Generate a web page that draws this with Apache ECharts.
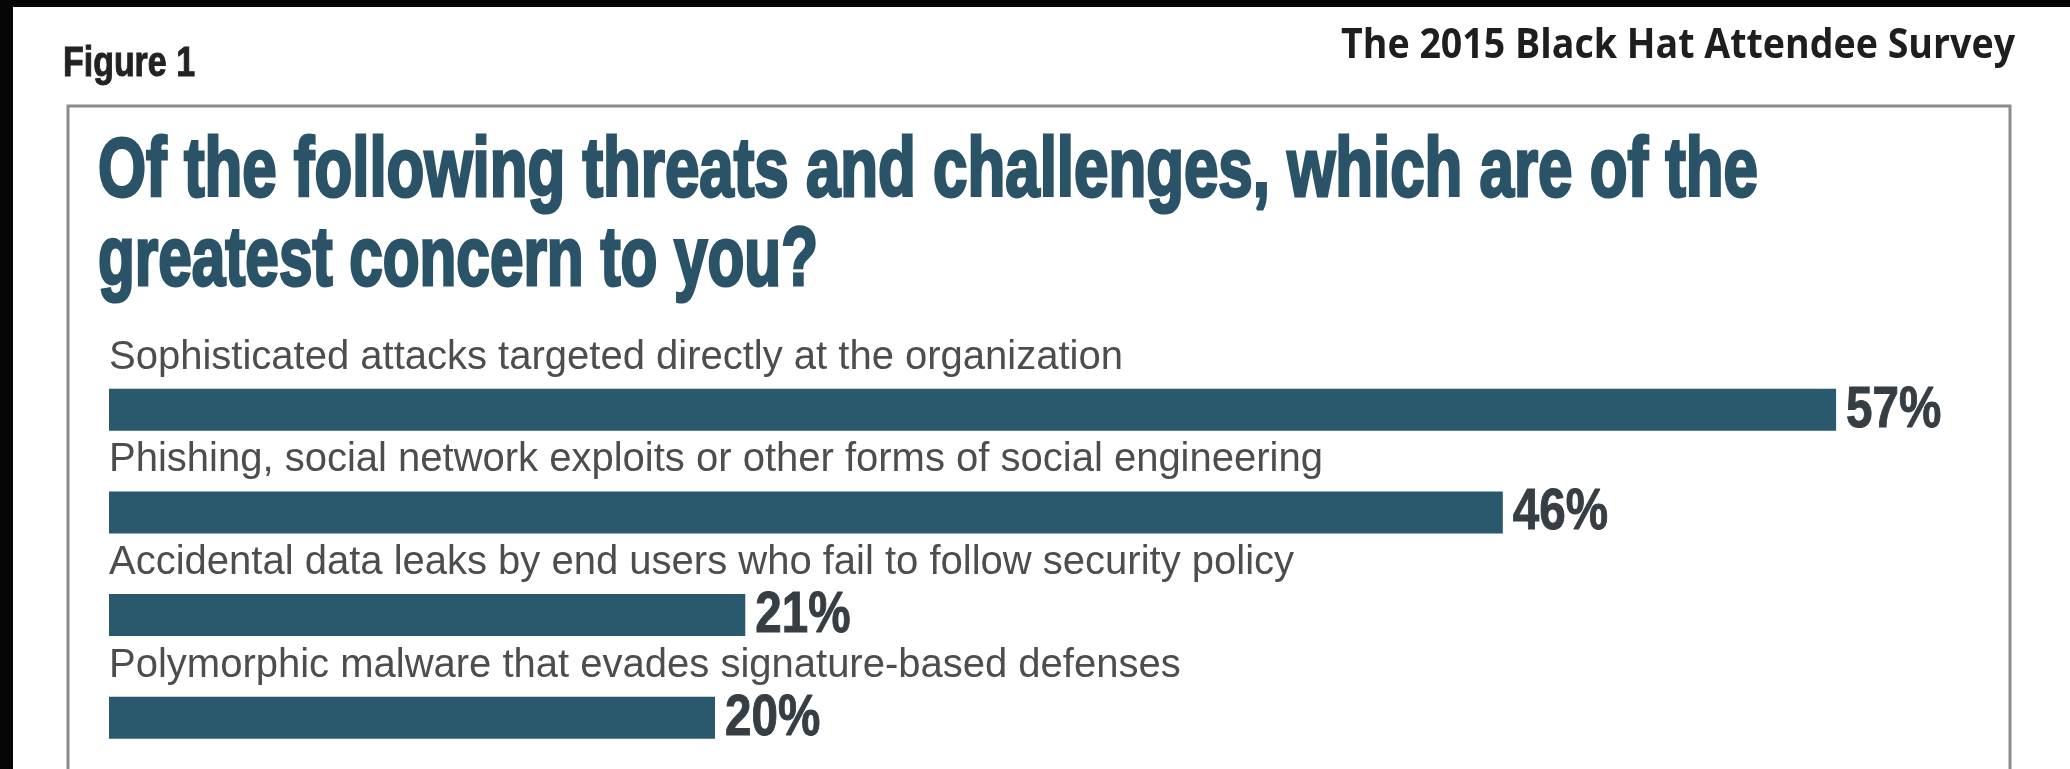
<!DOCTYPE html>
<html>
<head>
<meta charset="utf-8">
<script src="https://cdn.jsdelivr.net/npm/echarts@6/dist/echarts.min.js"></script>
<style>
  html, body { margin: 0; padding: 0; background: #ffffff; }
  #chart { width: 2070px; height: 769px; }
</style>
</head>
<body>
<div id="chart"></div>
<script>
// Survey answers, in the order they are listed
const categories = [
  'Sophisticated attacks targeted directly at the organization',
  'Phishing, social network exploits or other forms of social engineering',
  'Accidental data leaks by end users who fail to follow security policy',
  'Polymorphic malware that evades signature-based defenses'
];
// Share of respondents (%)
const values = [57, 46, 21, 20];

const figureLabel = 'Figure 1';
const surveyName = 'The 2015 Black Hat Attendee Survey';
const titleLines = [
  'Of the following threats and challenges, which are of the',
  'greatest concern to you?'
];

const BAR_COLOR = '#2a586c';
const TITLE_COLOR = '#2b5368';
const LABEL_COLOR = '#4d4d4d';
const VALUE_COLOR = '#363d43';

const TITLE_FONT = 'bold 84px "Liberation Sans", Arial, sans-serif';
const FIGURE_FONT = 'bold 43px "Liberation Sans", Arial, sans-serif';
const SURVEY_FONT = 'bold 41px "Open Sans", sans-serif';
const LABEL_FONT = '40px "Liberation Sans", Arial, sans-serif';
const VALUE_FONT = 'bold 58px "Liberation Sans", Arial, sans-serif';

// horizontal squeeze so a line of text spans the wanted width (condensed look)
const measureCtx = document.createElement('canvas').getContext('2d');
function fitScale(text, font, width) {
  measureCtx.font = font;
  return width / measureCtx.measureText(text).width;
}

// text element; an optional outline of the same colour makes it heavier
function textEl(text, font, fill, x, y, align, scaleX, weight) {
  const style = {
    text: text, font: font, fill: fill,
    align: align, verticalAlign: 'middle',
    textAlign: align, textVerticalAlign: 'middle'
  };
  if (weight) {
    style.stroke = fill;
    style.lineWidth = weight;
  }
  return { type: 'text', x: x, y: y, scaleX: scaleX || 1, silent: true, style: style };
}

const chart = echarts.init(document.getElementById('chart'));

chart.setOption({
  animation: false,
  backgroundColor: '#ffffff',
  grid: { left: 109, top: 358.5, width: 1818, height: 432 },
  xAxis: { type: 'value', min: 0, max: 60, show: false },
  yAxis: { type: 'category', data: categories, inverse: true, show: false },
  graphic: [
    // dark edges of the page
    { type: 'rect', silent: true, shape: { x: 0, y: 0, width: 2070, height: 7 }, style: { fill: '#050505' } },
    { type: 'rect', silent: true, shape: { x: 0, y: 0, width: 13, height: 769 }, style: { fill: '#050505' } },
    // panel frame
    { type: 'rect', silent: true, shape: { x: 68, y: 106, width: 1942, height: 800 },
      style: { fill: 'none', stroke: '#8c8c8c', lineWidth: 3 } },
    textEl(figureLabel, FIGURE_FONT, '#222222', 63, 64, 'left', fitScale(figureLabel, FIGURE_FONT, 132), 1),
    textEl(surveyName, SURVEY_FONT, '#1e1e1e', 2015, 46, 'right', fitScale(surveyName, SURVEY_FONT, 674)),
    textEl(titleLines[0], TITLE_FONT, TITLE_COLOR, 98, 173, 'left', fitScale(titleLines[0], TITLE_FONT, 1660), 3),
    textEl(titleLines[1], TITLE_FONT, TITLE_COLOR, 98, 262, 'left', fitScale(titleLines[1], TITLE_FONT, 720), 3)
  ],
  series: [
    {
      type: 'bar',
      data: values,
      barWidth: 42,
      silent: true,
      itemStyle: { color: BAR_COLOR }
    },
    {
      // answer text above each bar and the percentage after it
      type: 'custom',
      coordinateSystem: 'cartesian2d',
      encode: { x: 0, y: 1 },
      data: values.map(function (v, i) { return [v, i]; }),
      silent: true,
      z: 3,
      renderItem: function (params, api) {
        const v = api.value(0);
        const i = api.value(1);
        const start = api.coord([0, i]);
        const end = api.coord([v, i]);
        return {
          type: 'group',
          children: [
            textEl(categories[i], LABEL_FONT, LABEL_COLOR, start[0], start[1] - 52, 'left'),
            textEl(v + '%', VALUE_FONT, VALUE_COLOR, end[0] + 10, end[1] + 1, 'left', 0.82, 1)
          ]
        };
      }
    }
  ]
});
</script>
</body>
</html>
